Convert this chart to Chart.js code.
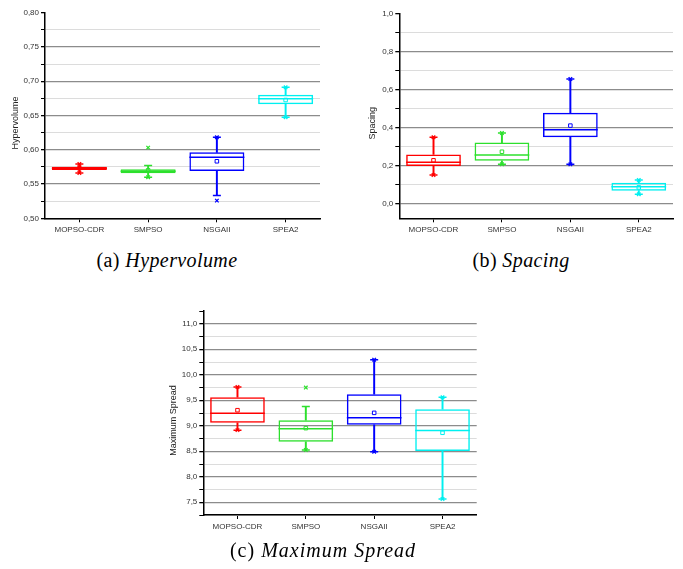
<!DOCTYPE html>
<html>
<head>
<meta charset="utf-8">
<script src="https://cdn.jsdelivr.net/npm/chart.js@4.4.1/dist/chart.umd.min.js"></script>
<style>
    body {
        margin: 0;
        background: #fff;
        width: 683px;
        height: 569px;
        position: relative;
        overflow: hidden;
    }
    canvas {
        position: absolute;
    }
    .caption {
        position: absolute;
        font-family: "Liberation Serif", serif;
        font-size: 20px;
        letter-spacing: 0.4px;
        color: #000;
        white-space: nowrap;
        transform: translate(-50%, -50%);
    }
</style>
</head>
<body>
<canvas id="hypervolume" width="340" height="240" style="left:0px;top:0px"></canvas>
<canvas id="spacing" width="333" height="240" style="left:350px;top:0px"></canvas>
<canvas id="spread" width="340" height="240" style="left:160px;top:300px"></canvas>
<div class="caption" style="left:167px;top:260px">(a) <i>Hypervolume</i></div>
<div class="caption" style="left:521px;top:260px">(b) <i>Spacing</i></div>
<div class="caption" style="left:323px;top:550px;letter-spacing:1px">(c) <i>Maximum Spread</i></div>
<script>
const algorithms = ["MOPSO-CDR", "SMPSO", "NSGAII", "SPEA2"];
const boxColors = ["#ff0000", "#2de02d", "#0000ff", "#00f0f0"];

// Hypervolume
const hvQ1 = [0.5705, 0.5657, 0.5691, 0.6663];
const hvQ3 = [0.5754, 0.5715, 0.5963, 0.6804];
const hvMedian = [0.5730, 0.5686, 0.5890, 0.6746];
const hvMean = [0.5730, 0.5700, 0.5832, 0.6726];
const hvLow = [0.5662, 0.5598, 0.5331, 0.6474];
const hvHigh = [0.5793, 0.5769, 0.6182, 0.6911];
const hvMin = [0.5662, 0.5600, 0.5258, 0.6474];
const hvMax = [0.5793, 0.6031, 0.6182, 0.6911];

// Spacing
const spQ1 = [0.199, 0.227, 0.350, 0.070];
const spQ3 = [0.260, 0.322, 0.479, 0.112];
const spMedian = [0.2185, 0.257, 0.390, 0.091];
const spMean = [0.229, 0.274, 0.411, 0.087];
const spLow = [0.152, 0.208, 0.208, 0.051];
const spHigh = [0.350, 0.372, 0.656, 0.126];
const spMin = [0.152, 0.208, 0.208, 0.051];
const spMax = [0.350, 0.372, 0.656, 0.126];

// Maximum Spread
const msQ1 = [9.057, 8.686, 9.018, 8.503];
const msQ3 = [9.559, 9.110, 9.618, 9.325];
const msMedian = [9.246, 8.940, 9.155, 8.907];
const msMean = [9.305, 8.953, 9.253, 8.862];
const msLow = [8.914, 8.523, 8.490, 7.565];
const msHigh = [9.761, 9.377, 10.296, 9.559];
const msMin = [8.914, 8.523, 8.490, 7.565];
const msMax = [9.761, 9.748, 10.296, 9.559];

const tickFont = { family: "Liberation Sans", size: 8 };

function onStep(value, step) {
    let r = value / step;
    return Math.abs(r - Math.round(r)) < 1e-6;
}

function pointSet(values, style, radius, width, fill) {
    return {
        type: "line",
        data: values,
        showLine: false,
        pointStyle: style,
        pointRadius: radius,
        pointBorderColor: boxColors,
        pointBackgroundColor: fill || boxColors,
        pointBorderWidth: width
    };
}

function boxPlot(id, yTitle, q1, q3, median, mean, low, high, min, max, axis) {
    // half the box width, so the median line spans the whole box
    let halfBox = (ctx) => ctx.chart.scales.x.width / algorithms.length * 0.4;
    new Chart(id, {
        type: "bar",
        data: {
            labels: algorithms,
            datasets: [
                {
                    data: q1.map((v, i) => [v, q3[i]]),
                    backgroundColor: "transparent",
                    borderColor: boxColors,
                    borderWidth: 1.5,
                    borderSkipped: false,
                    barPercentage: 0.8,
                    categoryPercentage: 1,
                    grouped: false
                },
                {
                    data: q3.map((v, i) => [v, high[i]]),
                    backgroundColor: boxColors,
                    borderWidth: 0,
                    barThickness: 1.3,
                    grouped: false
                },
                {
                    data: low.map((v, i) => [v, q1[i]]),
                    backgroundColor: boxColors,
                    borderWidth: 0,
                    barThickness: 1.3,
                    grouped: false
                },
                pointSet(median, "line", halfBox, 1.5),
                pointSet(mean, "rect", 2.5, 1, "#fff"),
                pointSet(low, "line", 4, 1.5),
                pointSet(high, "line", 4, 1.5),
                pointSet(min, "crossRot", 2.5, 1.3),
                pointSet(max, "crossRot", 2.5, 1.3)
            ]
        },
        options: {
            responsive: false,
            animation: false,
            events: [],
            layout: {
                padding: { top: axis.top, right: axis.right, left: 0, bottom: 0 }
            },
            plugins: {
                legend: { display: false },
                tooltip: { enabled: false }
            },
            scales: {
                x: {
                    afterFit: (s) => { s.height = axis.bottom; },
                    border: { color: "#000", width: 1.5 },
                    grid: {
                        offset: false,
                        drawOnChartArea: false,
                        tickColor: "#000",
                        tickLength: 4
                    },
                    ticks: {
                        color: "#333",
                        font: tickFont,
                        padding: 3,
                        maxRotation: 0
                    }
                },
                y: {
                    min: axis.min,
                    max: axis.max,
                    afterFit: (s) => { s.width = axis.left; },
                    border: { color: "#000", width: 1.5 },
                    grid: {
                        color: (c) => {
                            let v = c.tick.value;
                            if (Math.abs(v - axis.max) < 1e-9 || !onStep(v, axis.minor)) return "transparent";
                            return onStep(v, axis.major) ? "#8c8c8c" : "#dcdcdc";
                        },
                        lineWidth: (c) => onStep(c.tick.value, axis.major) ? 1.3 : 1,
                        tickColor: (c) => onStep(c.tick.value, axis.minor) ? "#000" : "transparent",
                        tickLength: 4
                    },
                    ticks: {
                        stepSize: axis.minor,
                        autoSkip: false,
                        padding: 2,
                        color: "#333",
                        font: tickFont,
                        callback: (v) => onStep(v, axis.major) ? v.toFixed(axis.digits).replace(".", ",") : ""
                    },
                    title: {
                        display: true,
                        // trailing spaces push the rotated title slightly below the axis middle
                        text: yTitle + "      ",
                        color: "#222",
                        font: { family: "Liberation Sans", size: 9 },
                        padding: { top: axis.titlePad, bottom: 0 }
                    }
                }
            }
        }
    });
}

boxPlot("hypervolume", "Hypervolume", hvQ1, hvQ3, hvMedian, hvMean, hvLow, hvHigh, hvMin, hvMax,
    { min: 0.5, max: 0.8, minor: 0.025, major: 0.05, digits: 2, top: 12.7, right: 20, left: 45, bottom: 21.7, titlePad: 10 });
boxPlot("spacing", "Spacing", spQ1, spQ3, spMedian, spMean, spLow, spHigh, spMin, spMax,
    { min: -0.075, max: 1.0, minor: 0.1, major: 0.2, digits: 1, top: 13.3, right: 10, left: 49.3, bottom: 21.7, titlePad: 17.6 });
boxPlot("spread", "Maximum Spread", msQ1, msQ3, msMedian, msMean, msLow, msHigh, msMin, msMax,
    { min: 7.25, max: 11.25, minor: 0.25, major: 0.5, digits: 1, top: 11, right: 23.3, left: 43.3, bottom: 25, titlePad: 8.6 });
</script>
</body>
</html>
